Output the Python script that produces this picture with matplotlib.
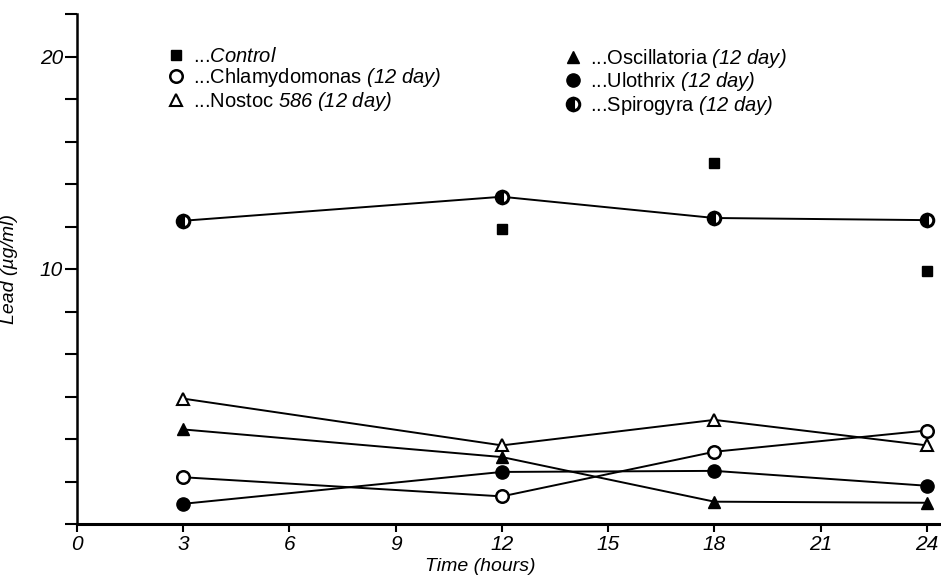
import numpy as np
import matplotlib
matplotlib.use("Agg")
import matplotlib.pyplot as plt
from matplotlib.lines import Line2D

plt.rcParams['font.family'] = ['Liberation Sans', 'DejaVu Sans']
plt.rcParams['mathtext.fontset'] = 'custom'
plt.rcParams['mathtext.rm'] = 'Liberation Sans:italic'
plt.rcParams['mathtext.it'] = 'Liberation Sans:italic'

# ---- data ----
hours = [3, 12, 18, 24]
control_hours = [12, 18, 24]
control = [11.9, 15.0, 9.9]
chlamydomonas = [0.2, -0.7, 1.4, 2.4]
nostoc = [3.9, 1.7, 2.9, 1.7]
oscillatoria = [2.45, 1.15, -0.95, -1.0]
ulothrix = [-1.05, 0.45, 0.5, -0.2]
spirogyra = [12.27, 13.4, 12.4, 12.3]

x_ticks = [0, 3, 6, 9, 12, 15, 18, 21, 24]
y_ticks = list(range(-2, 23, 2))
y_labelled = {10: "10", 20: "20"}

labels = [r'...$\mathit{Control}$',
          r'...Chlamydomonas $\mathit{(12\ day)}$',
          r'...Nostoc $\mathit{586\ (12\ day)}$',
          r'...Oscillatoria $\mathit{(12\ day)}$',
          r'...Ulothrix $\mathit{(12\ day)}$',
          r'...Spirogyra $\mathit{(12\ day)}$']

fig = plt.figure(figsize=(9.41, 5.78), dpi=100)
ax = fig.add_axes([77/941, 54/578, 864/941, 510/578])

lw = 1.4
ms = 9
styles = [
    dict(marker='s', ms=7.5, mfc='black', mec='black'),
    dict(marker='o', ms=ms, mfc='white', mec='black', mew=1.8),
    dict(marker='^', ms=ms, mfc='white', mec='black', mew=1.5),
    dict(marker='^', ms=ms, mfc='black', mec='black'),
    dict(marker='o', ms=ms + 0.5, mfc='black', mec='black'),
    dict(marker='o', ms=ms, fillstyle='left', mfc='black',
         markerfacecoloralt='white', mec='black', mew=2.2),
]

ax.plot(control_hours, control, linestyle='none', color='black', **styles[0])
for vals, st in zip([chlamydomonas, nostoc, oscillatoria, ulothrix, spirogyra], styles[1:]):
    ax.plot(hours, vals, color='black', lw=lw, **st)

handles = [Line2D([], [], linestyle='none', color='black', **st) for st in styles]

ax.set_xlim(0, 24.4)
ax.set_ylim(-2, 22)
ax.set_xticks(x_ticks)
ax.set_xticklabels([str(t) for t in x_ticks], fontstyle='italic', fontsize=15)
ax.set_yticks(y_ticks)
ax.set_yticklabels([y_labelled.get(t, "") for t in y_ticks], fontstyle='italic', fontsize=15)
ax.tick_params(axis='y', direction='out', length=9, width=1.5, pad=1)
ax.tick_params(axis='x', direction='out', length=6, width=1.5, pad=2)

for s in ['top', 'right']:
    ax.spines[s].set_visible(False)
ax.spines['left'].set_linewidth(1.8)
ax.spines['bottom'].set_linewidth(2.2)

ax.set_xlabel('Time (hours)', fontstyle='italic', fontsize=14)
ax.xaxis.set_label_coords((480 - 77) / 864, -0.066)
ax.set_ylabel('Lead (µg/ml)', fontstyle='italic', fontsize=14)
ax.yaxis.set_label_coords(-0.068, 0.5)

leg_kw = dict(frameon=False, fontsize=14.5, handlelength=0.8, handletextpad=0.45,
              labelspacing=0.02, borderaxespad=0, borderpad=0, loc='upper left')
leg1 = ax.legend(handles=handles[:3], labels=labels[:3],
                 bbox_to_anchor=((168 - 77) / 864, 1 - (47 - 14) / 510), **leg_kw)
ax.add_artist(leg1)
leg2 = ax.legend(handles=handles[3:], labels=labels[3:],
                 bbox_to_anchor=((565 - 77) / 864, 1 - (47 - 14) / 510), **leg_kw)

fig.savefig('out.png', dpi=100)
